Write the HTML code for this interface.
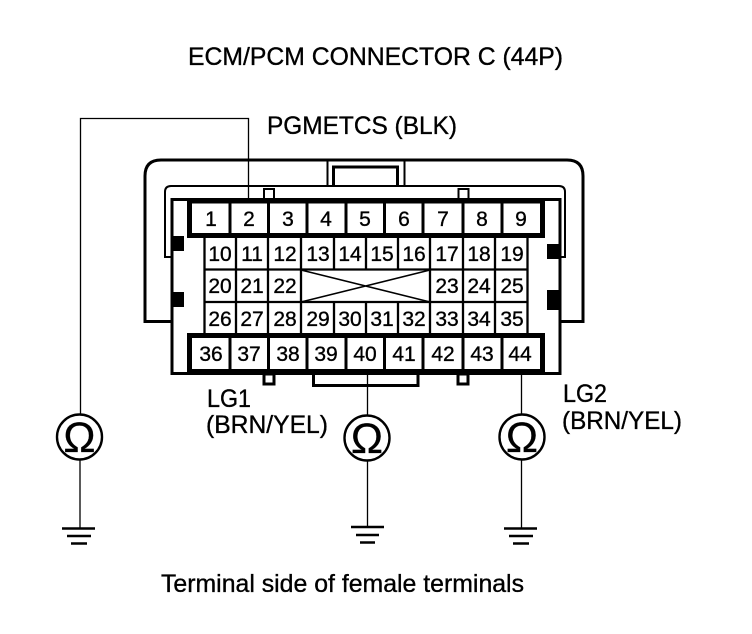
<!DOCTYPE html>
<html><head><meta charset="utf-8"><style>
html,body{margin:0;padding:0;background:#fff;width:752px;height:634px;overflow:hidden}
svg{display:block}
text{font-family:"Liberation Sans",sans-serif;fill:#000;stroke:#000;stroke-width:.35px}
.n{font-size:21px;text-anchor:middle}
.l{font-size:25px}
.o{font-size:43px;text-anchor:middle;stroke-width:.3px}
</style></head><body>
<svg width="752" height="634" viewBox="0 0 752 634" xmlns="http://www.w3.org/2000/svg">
<rect width="752" height="634" fill="#fff"/>
<g fill="none" stroke="#000">
<!-- outer shell -->
<path d="M172 321.500H145V176Q145 160 161 160H567Q583 160 583 176V321.500H560" stroke-width="3"/>
<!-- inner shell -->
<path d="M172 257H165V192Q165 186 171 186H559Q565 186 565 192V257H560" stroke-width="2"/>
<!-- top latch -->
<path d="M327.500 160V186M404.500 160V186" stroke-width="2"/>
<path d="M333.500 186V167H397.500V186" stroke-width="3"/>
<!-- body -->
<rect x="172" y="199.500" width="388" height="174" stroke-width="3"/>
<!-- tabs -->
<rect x="264" y="189" width="10" height="10" stroke-width="2"/>
<rect x="458.500" y="189" width="10" height="10" stroke-width="2"/>
<rect x="264" y="374" width="10" height="10" stroke-width="3"/>
<rect x="458" y="374" width="10" height="10" stroke-width="3"/>
<!-- bottom latch -->
<path d="M313.500 375V385.500H418V375" stroke-width="3"/>
<!-- middle grid -->
<path d="M204 269.500H528M204 302H528M204.500 238V333M236 238V333M268 238V333M301 238V333M334 238V270M334 302V333M366 238V270M366 302V333M398 238V270M398 302V333M430 238V333M463 238V333M495 238V333M527.500 238V333" stroke-width="2.300"/>
<path d="M301 270L430 302M301 302L430 270" stroke-width="1.600"/>
<!-- top & bottom blocks -->
<rect x="189.500" y="201" width="353" height="34.500" stroke-width="5"/>
<rect x="189.500" y="335.500" width="353" height="36" stroke-width="5"/>
<path d="M230 203V234M268.500 203V234M307 203V234M346 203V234M384.500 203V234M423 203V234M463 203V234M502 203V234M230 337V370M268.500 337V370M307 337V370M346 337V370M384.500 337V370M423 337V370M463 337V370M502 337V370" stroke-width="3"/>
<!-- wires -->
<path d="M248.500 199V118.500H80.500V415M80 460V528M367.500 373V416M367.500 461V527M521.500 373V415M521.500 460V528" stroke-width="1.300"/>
<!-- ohm circles -->
<circle cx="79.500" cy="437" r="22.500" stroke-width="2.400"/>
<circle cx="367" cy="438" r="22.500" stroke-width="2.400"/>
<circle cx="522" cy="437" r="22.500" stroke-width="2.400"/>
<!-- grounds -->
<path d="M62 528.500H95M67 536H91M71 543.500H87M351 527H384M356 535H379M360 542.500H375M504 528.500H537M509 536H533M513 543.500H529" stroke-width="2.600"/>
</g>
<!-- black latches -->
<rect x="171" y="236" width="13" height="15"/>
<rect x="171" y="292" width="13" height="15"/>
<rect x="547" y="244" width="13" height="15"/>
<rect x="547" y="290" width="13" height="20"/>
<!-- labels -->
<text class="l" x="188" y="65" textLength="375" lengthAdjust="spacingAndGlyphs">ECM/PCM CONNECTOR C (44P)</text>
<text class="l" x="267" y="134" textLength="190" lengthAdjust="spacingAndGlyphs">PGMETCS (BLK)</text>
<text class="l" x="207" y="407" textLength="44" lengthAdjust="spacingAndGlyphs">LG1</text>
<text class="l" x="206" y="433" textLength="122" lengthAdjust="spacingAndGlyphs">(BRN/YEL)</text>
<text class="l" x="563" y="402" textLength="44" lengthAdjust="spacingAndGlyphs">LG2</text>
<text class="l" x="562" y="429" textLength="120" lengthAdjust="spacingAndGlyphs">(BRN/YEL)</text>
<text class="l" x="161" y="592" textLength="363" lengthAdjust="spacingAndGlyphs">Terminal side of female terminals</text>
<!-- ohm -->
<text class="o" x="79.500" y="452">Ω</text>
<text class="o" x="367" y="453">Ω</text>
<text class="o" x="522" y="452">Ω</text>
<!-- top row -->
<text class="n" x="211" y="226">1</text><text class="n" x="249" y="226">2</text><text class="n" x="288" y="226">3</text><text class="n" x="326" y="226">4</text><text class="n" x="365" y="226">5</text><text class="n" x="404" y="226">6</text><text class="n" x="443" y="226">7</text><text class="n" x="482" y="226">8</text><text class="n" x="521" y="226">9</text>
<!-- row 2 -->
<text class="n" x="220" y="261">10</text><text class="n" x="252" y="261">11</text><text class="n" x="285" y="261">12</text><text class="n" x="318" y="261">13</text><text class="n" x="350" y="261">14</text><text class="n" x="382" y="261">15</text><text class="n" x="414" y="261">16</text><text class="n" x="447" y="261">17</text><text class="n" x="479" y="261">18</text><text class="n" x="512" y="261">19</text>
<!-- row 3 -->
<text class="n" x="220" y="293">20</text><text class="n" x="252" y="293">21</text><text class="n" x="285" y="293">22</text><text class="n" x="447" y="293">23</text><text class="n" x="479" y="293">24</text><text class="n" x="512" y="293">25</text>
<!-- row 4 -->
<text class="n" x="220" y="326">26</text><text class="n" x="252" y="326">27</text><text class="n" x="285" y="326">28</text><text class="n" x="318" y="326">29</text><text class="n" x="350" y="326">30</text><text class="n" x="382" y="326">31</text><text class="n" x="414" y="326">32</text><text class="n" x="447" y="326">33</text><text class="n" x="479" y="326">34</text><text class="n" x="512" y="326">35</text>
<!-- bottom row -->
<text class="n" x="211" y="361">36</text><text class="n" x="249" y="361">37</text><text class="n" x="288" y="361">38</text><text class="n" x="326" y="361">39</text><text class="n" x="365" y="361">40</text><text class="n" x="404" y="361">41</text><text class="n" x="443" y="361">42</text><text class="n" x="482" y="361">43</text><text class="n" x="520" y="361">44</text>
</svg>
</body></html>
